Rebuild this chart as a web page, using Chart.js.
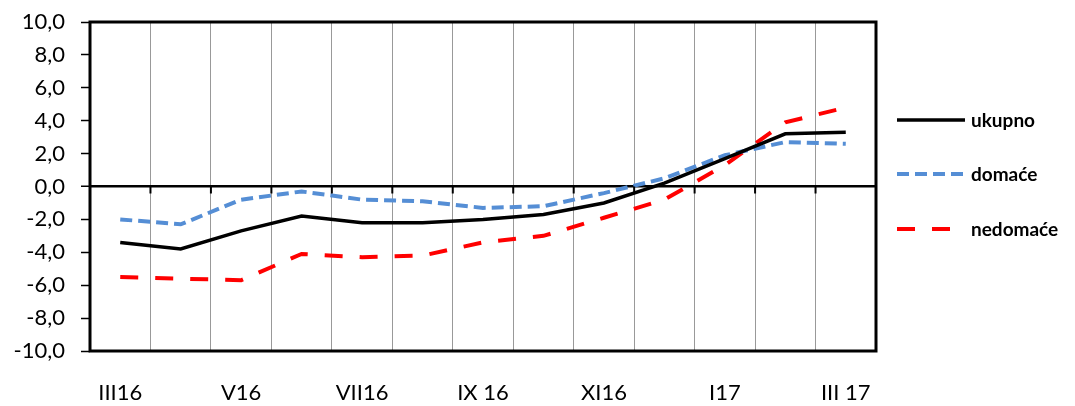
<!DOCTYPE html>
<html>
<head>
<meta charset="utf-8">
<script src="https://cdn.jsdelivr.net/npm/chart.js@4/dist/chart.umd.min.js"></script>
<style>
html,body{margin:0;padding:0;background:#fff;}
#wrap{width:1075px;height:406px;}
</style>
</head>
<body>
<div id="wrap"><canvas id="c" width="1075" height="406"></canvas></div>
<script>
const categories = ['III16','IV16','V16','VI16','VII16','VIII16','IX 16','X16','XI16','XII16','I17','II17','III 17'];
const ukupno   = [-3.4, -3.8, -2.7, -1.8, -2.2, -2.2, -2.0, -1.7, -1.0, 0.2, 1.7, 3.2, 3.3];
const domace   = [-2.0, -2.3, -0.8, -0.3, -0.8, -0.9, -1.3, -1.2, -0.4, 0.5, 1.9, 2.7, 2.6];
const nedomace = [-5.5, -5.6, -5.7, -4.1, -4.3, -4.2, -3.4, -3.0, -1.9, -0.8, 1.3, 3.9, 4.8];
const seriesNames = ['ukupno', 'domaće', 'nedomaće'];
const yMin = -10, yMax = 10, yStep = 2;

const FONT = 'Lato, "Open Sans", sans-serif';

const frame = {
  id: 'frame',
  afterDatasetsDraw(chart) {
    const {ctx, chartArea: a, scales} = chart;
    const y0 = scales.y.getPixelForValue(0);
    ctx.save();
    ctx.strokeStyle = '#000';
    ctx.lineWidth = 2;
    for (let i = 1; i < categories.length; i++) {
      const x = (scales.x.getPixelForValue(i - 1) + scales.x.getPixelForValue(i)) / 2;
      ctx.beginPath();
      ctx.moveTo(x, y0);
      ctx.lineTo(x, y0 + 7);
      ctx.stroke();
    }
    ctx.lineWidth = 3;
    ctx.strokeRect(a.left, a.top, a.right - a.left, a.bottom - a.top);
    const ys = [120, 174, 229];
    chart.data.datasets.forEach((ds, i) => {
      ctx.beginPath();
      ctx.strokeStyle = ds.borderColor;
      ctx.lineWidth = ds.borderWidth;
      ctx.setLineDash(ds.borderDash || []);
      ctx.moveTo(897, ys[i]);
      ctx.lineTo(965, ys[i]);
      ctx.stroke();
      ctx.setLineDash([]);
      ctx.fillStyle = '#000';
      ctx.font = 'bold 19px ' + FONT;
      ctx.textBaseline = 'middle';
      ctx.textAlign = 'left';
      ctx.fillText(ds.label, 971, ys[i] + 1);
    });
    ctx.restore();
  }
};

new Chart(document.getElementById('c'), {
  type: 'line',
  data: {
    labels: categories,
    datasets: [
      {label: seriesNames[0], data: ukupno, borderColor: '#000000', borderWidth: 3.5, borderDash: [], pointRadius: 0, tension: 0, fill: false},
      {label: seriesNames[1], data: domace, borderColor: '#558ED5', borderWidth: 4, borderDash: [12, 6], pointRadius: 0, tension: 0, fill: false},
      {label: seriesNames[2], data: nedomace, borderColor: '#FF0000', borderWidth: 4, borderDash: [18, 17], pointRadius: 0, tension: 0, fill: false}
    ]
  },
  options: {
    responsive: false,
    animation: false,
    layout: {padding: {top: 22, right: 199, left: 0, bottom: 0}},
    plugins: {legend: {display: false}, tooltip: {enabled: false}},
    scales: {
      x: {
        type: 'category',
        offset: true,
        afterFit(s) { s.height = 55; s.paddingLeft = 0; s.paddingRight = 0; },
        grid: {offset: true, color: '#999', lineWidth: 1, drawTicks: false},
        border: {display: false},
        ticks: {
          autoSkip: false, maxRotation: 0, padding: 29,
          color: '#000', font: {family: FONT, size: 22},
          callback(v, i) { return i % 2 === 0 ? categories[i] : ''; }
        }
      },
      y: {
        min: yMin, max: yMax,
        afterFit(s) { s.width = 90; s.paddingTop = 0; s.paddingBottom = 0; },
        grid: {
          color: c => c.tick && c.tick.value === 0 ? '#000' : 'rgba(0,0,0,0)',
          lineWidth: c => c.tick && c.tick.value === 0 ? 2.5 : 1,
          tickColor: '#000', tickWidth: 1.5, tickLength: 9
        },
        border: {display: false},
        ticks: {
          stepSize: yStep, padding: 16, color: '#000',
          font: {family: FONT, size: 22},
          callback: v => v.toFixed(1).replace('.', ',')
        }
      }
    }
  },
  plugins: [frame]
});
</script>
</body>
</html>
